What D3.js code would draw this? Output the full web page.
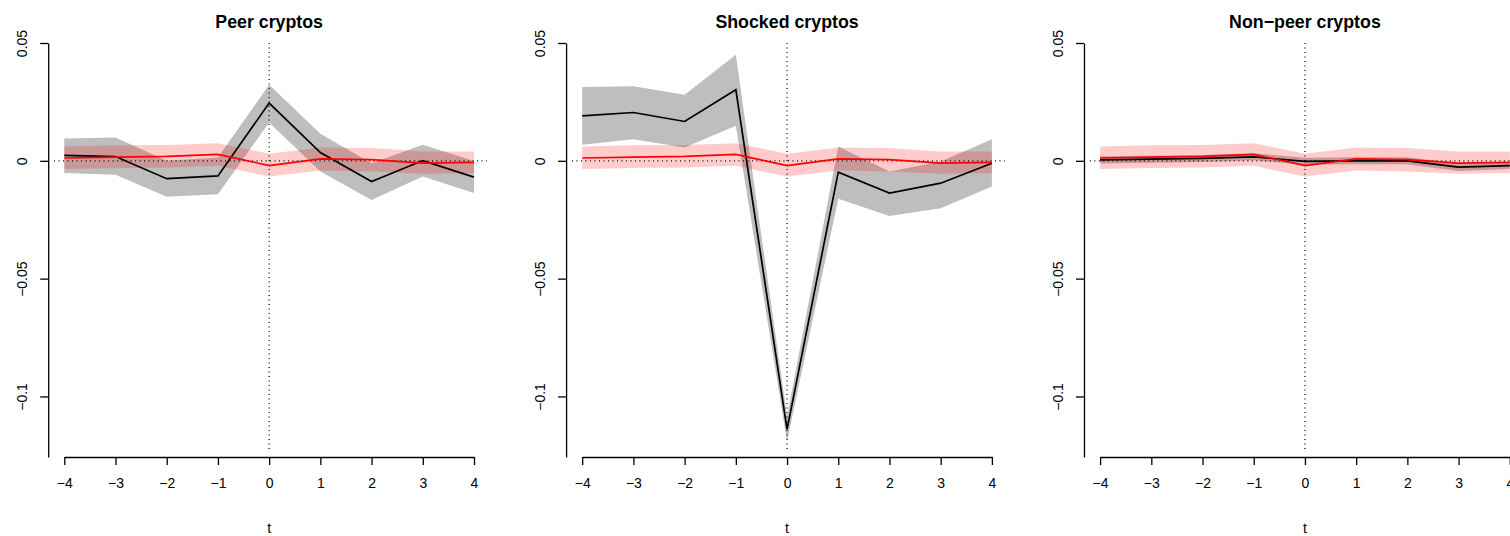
<!DOCTYPE html>
<html>
<head>
<meta charset="utf-8">
<title>Event study: peer, shocked and non-peer cryptos</title>
<script src="https://d3js.org/d3.v7.min.js"></script>
<style>
    body { margin: 0; background: #fff; }
    svg { display: block; font-family: "Liberation Sans", Arial, sans-serif; }
    .axis path, .axis line { stroke: #000; stroke-width: 1.3px; }
    .title { font-size: 17.8px; font-weight: bold; }
    .ref { stroke: #000; stroke-width: 1.2px; stroke-dasharray: 1,3.5; fill: none; }
</style>
</head>
<body>
<div id="chart"></div>
<script>
    // event time
    const tVals = [-4, -3, -2, -1, 0, 1, 2, 3, 4];
    const yTicks = [0.05, 0, -0.05, -0.1];

    // common benchmark (red line + pink band), same in every panel
    const redMean = [0.0012, 0.0016, 0.0019, 0.0027, -0.0020, 0.0008, 0.0005, -0.0010, -0.0007];
    const redLo = [-0.0035, -0.0030, -0.0028, -0.0021, -0.0067, -0.0041, -0.0045, -0.0055, -0.0052];
    const redHi = [0.0061, 0.0066, 0.0067, 0.0075, 0.0030, 0.0057, 0.0054, 0.0040, 0.0040];

    // Peer cryptos
    const peerMean = [0.0023, 0.0018, -0.0076, -0.0064, 0.0245, 0.0035, -0.0088, 0.0001, -0.0069];
    const peerLo = [-0.0052, -0.0059, -0.0152, -0.0142, 0.0163, -0.0045, -0.0166, -0.0067, -0.0137];
    const peerHi = [0.0095, 0.0099, 0.0000, 0.0014, 0.0323, 0.0115, -0.0010, 0.0068, -0.0001];

    // Shocked cryptos
    const shockMean = [0.0191, 0.0205, 0.0167, 0.0302, -0.1140, -0.0048, -0.0137, -0.0095, -0.0010];
    const shockLo = [0.0068, 0.0092, 0.0057, 0.0149, -0.1190, -0.0161, -0.0234, -0.0201, -0.0109];
    const shockHi = [0.0313, 0.0316, 0.0280, 0.0450, -0.1085, 0.0061, -0.0045, -0.0003, 0.0092];

    // Non-peer cryptos
    const npMean = [0.0004, 0.0007, 0.0010, 0.0017, -0.0002, 0.0000, 0.0000, -0.0027, -0.0020];
    const npLo = [-0.0011, -0.0008, -0.0005, 0.0002, -0.0017, -0.0015, -0.0015, -0.0043, -0.0035];
    const npHi = [0.0019, 0.0022, 0.0025, 0.0032, 0.0013, 0.0015, 0.0015, -0.0011, -0.0005];

    const panels = [
        { title: "Peer cryptos", mean: peerMean, lo: peerLo, hi: peerHi },
        { title: "Shocked cryptos", mean: shockMean, lo: shockLo, hi: shockHi },
        { title: "Non\u2212peer cryptos", mean: npMean, lo: npLo, hi: npHi }
    ];

    const width = 1510, height = 536;
    const panelStep = 517.9;
    const labelFont = "14px";

    const svg = d3.select("#chart").append("svg")
        .attr("width", width)
        .attr("height", height);

    // shared y scale (axis line runs a bit below the plot region)
    const y = d3.scaleLinear().domain([-0.1257, 0.05]).range([457, 43]);
    const regionBottom = 452;

    const fmt = d => d === 0 ? "0" : d3.format("")(d).replace("-", "\u2212");

    panels.forEach((p, i) => {
        const off = i * panelStep;
        const x = d3.scaleLinear().domain([-4, 4]).range([off + 64.3, off + 474]);
        const g = svg.append("g");

        const pts = (arr) => tVals.map((t, k) => [t, arr[k]]);
        const band = d3.area()
            .x(d => x(d.t)).y0(d => y(d.lo)).y1(d => y(d.hi));
        const line = d3.line().x(d => x(d[0])).y(d => y(d[1]));

        // gray band for the group
        g.append("path")
            .datum(tVals.map((t, k) => ({ t: t, lo: p.lo[k], hi: p.hi[k] })))
            .attr("d", band)
            .attr("fill", "#bebebe");

        // pink band for the benchmark
        g.append("path")
            .datum(tVals.map((t, k) => ({ t: t, lo: redLo[k], hi: redHi[k] })))
            .attr("d", band)
            .attr("fill", "rgba(255,0,0,0.2)");

        // dotted reference lines
        g.append("line").attr("class", "ref")
            .attr("x1", x(-4.2)).attr("x2", x(4.25))
            .attr("y1", y(0)).attr("y2", y(0));
        g.append("line").attr("class", "ref")
            .attr("x1", x(0)).attr("x2", x(0))
            .attr("y1", y(0.05)).attr("y2", regionBottom);

        g.append("path")
            .datum(pts(p.mean))
            .attr("d", line)
            .attr("fill", "none")
            .attr("stroke", "#000")
            .attr("stroke-width", 1.7);

        g.append("path")
            .datum(pts(redMean))
            .attr("d", line)
            .attr("fill", "none")
            .attr("stroke", "#ff0000")
            .attr("stroke-width", 1.7);

        // x axis
        const xAxis = g.append("g")
            .attr("class", "axis")
            .attr("transform", "translate(0,457)")
            .call(d3.axisBottom(x).tickValues(tVals).tickSize(8).tickSizeOuter(0).tickFormat(fmt));
        xAxis.attr("font-family", null).attr("font-size", null);
        xAxis.selectAll(".tick text")
            .attr("y", 31).attr("dy", 0)
            .style("font-size", labelFont).style("fill", "#000");

        // y axis
        const yAxis = g.append("g")
            .attr("class", "axis")
            .attr("transform", `translate(${off + 48.2},0)`)
            .call(d3.axisLeft(y).tickValues(yTicks).tickSize(8).tickSizeOuter(0).tickFormat(fmt));
        yAxis.attr("font-family", null).attr("font-size", null);
        yAxis.selectAll(".tick text")
            .attr("transform", "rotate(-90)")
            .attr("text-anchor", "middle")
            .attr("x", 0).attr("y", -21).attr("dy", 0)
            .style("font-size", labelFont).style("fill", "#000");

        g.append("text")
            .attr("class", "title")
            .attr("x", x(0)).attr("y", 27.5)
            .attr("text-anchor", "middle")
            .text(p.title);

        g.append("text")
            .attr("x", x(0)).attr("y", 533)
            .attr("text-anchor", "middle")
            .style("font-size", labelFont)
            .text("t");
    });
</script>
</body>
</html>
